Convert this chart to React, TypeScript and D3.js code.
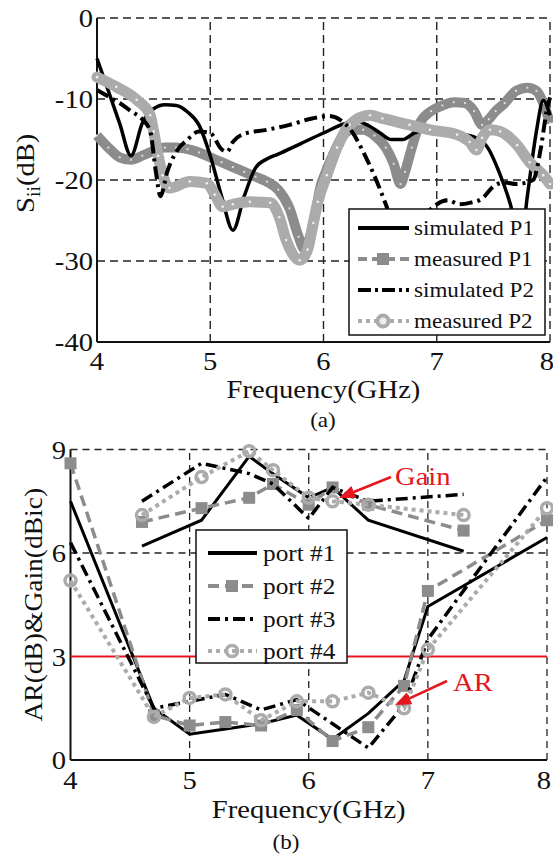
import React from "react";
import * as d3 from "d3";

const FONT = "Liberation Serif, Tinos, Times New Roman, Times, serif";
const RED = "#e5161d";
const DARK = "#8c8c8c";
const LIGHT = "#ababab";

// ---- (a) S-parameters, [GHz, dB] ----
const simP1: [number, number][] = [
  [4.0, -5], [4.1, -9], [4.2, -13], [4.3, -17], [4.4, -13], [4.5, -11.2], [4.6, -10.7],
  [4.7, -10.8], [4.8, -11.6], [4.9, -13.2], [5.0, -17], [5.1, -22], [5.2, -26.2], [5.3, -22],
  [5.4, -18.5], [5.5, -17.4], [5.6, -16.8], [5.8, -15.5], [6.0, -14.2], [6.2, -13], [6.3, -12.8],
  [6.4, -13.3], [6.5, -14.2], [6.6, -15], [6.7, -15], [6.8, -14.2], [6.9, -13.9], [7.0, -14],
  [7.2, -14.3], [7.35, -14.8], [7.45, -16], [7.55, -19], [7.65, -23], [7.74, -28], [7.8, -22],
  [7.88, -14], [7.94, -10.2], [8.0, -12],
];
const measP1: [number, number][] = [
  [4.0, -14.5], [4.1, -16], [4.2, -17.2], [4.3, -17.5], [4.4, -17], [4.5, -16.4], [4.6, -16],
  [4.7, -16], [4.8, -16.2], [4.9, -16.6], [5.0, -17.2], [5.1, -17.8], [5.2, -18.4], [5.3, -19],
  [5.4, -19.6], [5.5, -20.2], [5.6, -21.2], [5.7, -23.5], [5.78, -27], [5.83, -28.5], [5.88, -27],
  [5.93, -24], [5.97, -21], [6.02, -19], [6.08, -17], [6.15, -15], [6.25, -13.8], [6.35, -13.8],
  [6.45, -14.5], [6.55, -16], [6.62, -18], [6.68, -20.5], [6.72, -19], [6.78, -16], [6.85, -13],
  [6.95, -11.5], [7.05, -10.8], [7.15, -10.4], [7.25, -10.5], [7.33, -11.5], [7.4, -13.2],
  [7.46, -12.5], [7.52, -11.5], [7.6, -10.5], [7.7, -9], [7.8, -8.6], [7.88, -9], [7.94, -10.5],
  [8.0, -13],
];
const simP2: [number, number][] = [
  [4.0, -8.9], [4.1, -9.7], [4.2, -10.5], [4.3, -11.5], [4.4, -12.5], [4.47, -14], [4.52, -19],
  [4.56, -22], [4.62, -19], [4.7, -16.5], [4.8, -15], [4.9, -14], [5.0, -14.2], [5.1, -16.2],
  [5.15, -16.5], [5.2, -15.3], [5.3, -14.3], [5.5, -13.8], [5.7, -13.2], [5.9, -12.4], [6.05, -12.1],
  [6.15, -12.6], [6.25, -14], [6.35, -16.5], [6.45, -19.5], [6.55, -23], [6.65, -27], [6.8, -28],
  [6.9, -24.5], [7.0, -23], [7.1, -22.5], [7.2, -23], [7.3, -22.8], [7.4, -22.3], [7.5, -20.8],
  [7.6, -20.3], [7.7, -20.5], [7.85, -20], [7.92, -16], [7.97, -11.5], [8.0, -9.8],
];
const measP2: [number, number][] = [
  [4.0, -7.3], [4.17, -8.5], [4.35, -10.1], [4.47, -12], [4.5, -14], [4.54, -17], [4.58, -19.4],
  [4.64, -21], [4.82, -20.2], [4.97, -20.4], [5.04, -21.8], [5.11, -23.3], [5.2, -23], [5.35, -22.7],
  [5.53, -22.8], [5.61, -24.6], [5.67, -27.4], [5.79, -29.9], [5.86, -28.6], [5.91, -25.3],
  [5.95, -22.7], [6.03, -19.4], [6.12, -16], [6.23, -13.2], [6.41, -12], [6.52, -12.4], [6.76, -13.2],
  [6.94, -13.8], [7.18, -14.4], [7.29, -15.3], [7.35, -16.3], [7.4, -14.8], [7.47, -13.8],
  [7.56, -14], [7.71, -15.7], [7.82, -17.8], [7.94, -19.4], [8.0, -20.5],
];
const sLegend = ["simulated P1", "measured P1", "simulated P2", "measured P2"];
const freqTicks = [4, 5, 6, 7, 8];
const sTicks = [0, -10, -20, -30, -40];

// ---- (b) AR & gain ----
const arFreq = [4, 4.7, 5, 5.3, 5.6, 5.9, 6.2, 6.5, 6.8, 7, 8];
const arPort1 = [7.5, 1.5, 0.75, 0.9, 1.05, 1.3, 0.6, 1.35, 2.3, 4.45, 6.45];
const arPort2 = [8.6, 1.3, 1.0, 1.1, 1.0, 1.45, 0.55, 0.95, 2.15, 4.9, 6.95];
const arPort3 = [6.3, 1.5, 1.7, 1.9, 1.45, 1.75, 1.05, 0.35, 1.6, 3.5, 8.2];
const arPort4 = [5.2, 1.25, 1.8, 1.9, 1.15, 1.7, 1.7, 1.95, 1.5, 3.2, 7.3];
const gainFreq = [4.6, 5.1, 5.5, 5.7, 6.0, 6.2, 6.5, 7.3];
const gainPort1 = [6.2, 6.95, 8.8, 8.3, 7.6, 7.9, 6.95, 6.05];
const gainPort2 = [6.9, 7.3, 7.6, 8.0, 7.4, 7.9, 7.4, 6.65];
const gainPort3 = [7.5, 8.6, 8.3, 8.0, 7.0, 7.9, 7.5, 7.7];
const gainPort4 = [7.1, 8.2, 8.95, 8.4, 7.6, 7.5, 7.4, 7.1];
const portLegend = ["port #1", "port #2", "port #3", "port #4"];
const bTicks = [0, 3, 6, 9];

// text is slightly wider than plain Times in the figure
const Txt = ({ x, y, size, anchor = "start", fill = "#111", rotate = false, children }: any) => (
  <text
    transform={`translate(${x},${y})${rotate ? " rotate(-90)" : ""} scale(1.1,1)`}
    fontFamily={FONT}
    fontSize={size}
    textAnchor={anchor}
    fill={fill}
  >
    {children}
  </text>
);

const arrow = (x1: number, y1: number, x2: number, y2: number) => {
  const a = Math.atan2(y2 - y1, x2 - x1);
  const L = 16, w = 6.5;
  const bx = x2 - L * Math.cos(a), by = y2 - L * Math.sin(a);
  const px = -Math.sin(a) * w, py = Math.cos(a) * w;
  return (
    <g>
      <line x1={x1} y1={y1} x2={bx} y2={by} stroke={RED} strokeWidth={2.5} />
      <polygon points={`${x2},${y2} ${bx + px},${by + py} ${bx - px},${by - py}`} fill={RED} />
    </g>
  );
};

const gridStyle = { stroke: "#222", strokeWidth: 1.4, strokeDasharray: "8,5" };

function ChartA() {
  const x = d3.scaleLinear().domain([4, 8]).range([97, 550]);
  const y = d3.scaleLinear().domain([-40, 0]).range([342, 18]);
  const line = d3.line<[number, number]>().x((d) => x(d[0])).y((d) => y(d[1])).curve(d3.curveMonotoneX);
  const [x0, x1] = x.range();
  const [y0, y1] = y.range();
  const lx = 349, ly = 209;
  const rows = [228, 259, 290, 321];
  return (
    <g>
      {freqTicks.slice(1).map((t) => (
        <line key={"v" + t} x1={x(t)} x2={x(t)} y1={y0} y2={y1} {...gridStyle} />
      ))}
      {sTicks.slice(0, 4).map((t) => (
        <line key={"h" + t} x1={x0} x2={x1} y1={y(t)} y2={y(t)} {...gridStyle} />
      ))}
      <line x1={x0} x2={x0} y1={y0} y2={y1} stroke="#111" strokeWidth={2} />
      <line x1={x0} x2={x1} y1={y0} y2={y0} stroke="#111" strokeWidth={2} />

      <path d={line(measP1)!} fill="none" stroke={DARK} strokeWidth={10} strokeLinejoin="round" />
      {measP1.map((d, i) => (
        <rect key={"m1" + i} x={x(d[0]) - 1} y={y(d[1]) - 1} width={2} height={2} fill="#ddd" />
      ))}
      <path d={line(simP1)!} fill="none" stroke="#000" strokeWidth={3.5} />
      <path d={line(measP2)!} fill="none" stroke={LIGHT} strokeWidth={11} strokeLinejoin="round" strokeLinecap="round" />
      {measP2.map((d, i) => (
        <circle key={"m2" + i} cx={x(d[0])} cy={y(d[1])} r={1.3} fill="#eee" />
      ))}
      <path d={line(simP2)!} fill="none" stroke="#000" strokeWidth={4} strokeDasharray="13,5,3,5" />

      {freqTicks.map((t) => (
        <Txt key={"xt" + t} x={x(t) - (t === 8 ? 3 : 0)} y={370} size={26} anchor="middle">{t}</Txt>
      ))}
      {sTicks.map((t) => (
        <Txt key={"yt" + t} x={93} y={y(t) + 9} size={26} anchor="end">{t}</Txt>
      ))}
      <Txt x={(x0 + x1) / 2} y={398} size={26} anchor="middle">Frequency(GHz)</Txt>
      <Txt x={34} y={(y0 + y1) / 2 + 33} size={26} rotate>
        <tspan>S</tspan>
        <tspan dy={6} fontSize={18}>ii</tspan>
        <tspan dy={-6}>(dB)</tspan>
      </Txt>
      <Txt x={323} y={427} size={21} anchor="middle">(a)</Txt>

      <rect x={lx} y={ly} width={196} height={126} fill="#fff" stroke="#111" strokeWidth={1.5} />
      <line x1={358} x2={409} y1={rows[0]} y2={rows[0]} stroke="#000" strokeWidth={4} />
      <line x1={358} x2={409} y1={rows[1]} y2={rows[1]} stroke={DARK} strokeWidth={4} strokeDasharray="9,5" />
      <rect x={377} y={rows[1] - 6} width={12} height={12} fill={DARK} />
      <line x1={358} x2={409} y1={rows[2]} y2={rows[2]} stroke="#000" strokeWidth={4} strokeDasharray="13,4,3,4" />
      <line x1={358} x2={409} y1={rows[3]} y2={rows[3]} stroke={LIGHT} strokeWidth={4} strokeDasharray="4,4" />
      <circle cx={383} cy={rows[3]} r={5.5} fill="#eee" stroke={LIGHT} strokeWidth={4} />
      {sLegend.map((s, i) => (
        <Txt key={s} x={414} y={rows[i] + 7} size={21}>{s}</Txt>
      ))}
    </g>
  );
}

function ChartB() {
  const x = d3.scaleLinear().domain([4, 8]).range([70.5, 547]);
  const y = d3.scaleLinear().domain([0, 9]).range([760, 449.5]);
  const [x0, x1] = x.range();
  const [y0, y1] = y.range();
  const pts = (fs: number[], vs: number[]) => fs.map((f, i) => [x(f), y(vs[i])] as [number, number]);
  const path = (fs: number[], vs: number[]) => d3.line()(pts(fs, vs))!;
  const series = [
    { ar: arPort1, g: gainPort1, stroke: "#000", w: 3, dash: undefined, mark: null },
    { ar: arPort2, g: gainPort2, stroke: DARK, w: 3.5, dash: "11,6", mark: "sq" },
    { ar: arPort3, g: gainPort3, stroke: "#000", w: 3.5, dash: "12,5,3,5", mark: null },
    { ar: arPort4, g: gainPort4, stroke: LIGHT, w: 4, dash: "4,4", mark: "ci" },
  ];
  const marker = (kind: string | null, cx: number, cy: number, k: string) =>
    kind === "sq" ? (
      <rect key={k} x={cx - 6} y={cy - 6} width={12} height={12} fill={DARK} />
    ) : kind === "ci" ? (
      <circle key={k} cx={cx} cy={cy} r={5.5} fill="none" stroke={LIGHT} strokeWidth={3.5} />
    ) : null;
  const rows = [553, 586, 619, 651];
  return (
    <g>
      {freqTicks.slice(1).map((t) => (
        <line key={"v" + t} x1={x(t)} x2={x(t)} y1={y0} y2={y1} {...gridStyle} strokeWidth={1.3} strokeDasharray="7,5" />
      ))}
      {[6, 9].map((t) => (
        <line key={"h" + t} x1={x0} x2={x1} y1={y(t)} y2={y(t)} {...gridStyle} strokeWidth={1.3} strokeDasharray="7,5" />
      ))}
      <line x1={x0} x2={x0} y1={y0} y2={y1} stroke="#111" strokeWidth={2} />
      <line x1={x0} x2={x1} y1={y0} y2={y0} stroke="#111" strokeWidth={2} />
      <line x1={x0} x2={x1} y1={y(3)} y2={y(3)} stroke={RED} strokeWidth={2} />

      {series.map((s, i) => (
        <g key={"s" + i}>
          <path d={path(arFreq, s.ar)} fill="none" stroke={s.stroke} strokeWidth={s.w} strokeDasharray={s.dash} />
          <path d={path(gainFreq, s.g)} fill="none" stroke={s.stroke} strokeWidth={s.w} strokeDasharray={s.dash} />
          {pts(arFreq, s.ar).map((p, j) => marker(s.mark, p[0], p[1], "a" + j))}
          {pts(gainFreq, s.g).map((p, j) => marker(s.mark, p[0], p[1], "g" + j))}
        </g>
      ))}

      {freqTicks.map((t) => (
        <Txt key={"xt" + t} x={x(t) - (t === 8 ? 3 : 0)} y={789} size={26} anchor="middle">{t}</Txt>
      ))}
      {bTicks.map((t) => (
        <Txt key={"yt" + t} x={66} y={y(t) + 9} size={26} anchor="end">{t}</Txt>
      ))}
      <Txt x={(x0 + x1) / 2} y={818} size={26} anchor="middle">Frequency(GHz)</Txt>
      <Txt x={42} y={(y0 + y1) / 2} size={25} anchor="middle" rotate>AR(dB)&amp;Gain(dBic)</Txt>
      <Txt x={286} y={849} size={21} anchor="middle">(b)</Txt>

      <Txt x={395} y={485} size={26} fill={RED}>Gain</Txt>
      {arrow(391, 477, 339, 498)}
      <Txt x={453} y={691} size={26} fill={RED}>AR</Txt>
      {arrow(447, 681, 395, 705)}

      <rect x={196} y={530} width={151} height={133} fill="#fff" stroke="#111" strokeWidth={1.5} />
      {series.map((s, i) => (
        <g key={"l" + i}>
          <line x1={208} x2={257} y1={rows[i]} y2={rows[i]} stroke={s.stroke} strokeWidth={4} strokeDasharray={s.dash} />
          {marker(s.mark, 232, rows[i], "lm" + i)}
          <Txt x={263} y={rows[i] + 8} size={23}>{portLegend[i]}</Txt>
        </g>
      ))}
    </g>
  );
}

export default function App() {
  return (
    <svg width={553} height={857} style={{ position: "absolute", left: 0, top: 0, background: "#fff" }}>
      <rect width={553} height={857} fill="#fff" />
      <ChartA />
      <ChartB />
    </svg>
  );
}
